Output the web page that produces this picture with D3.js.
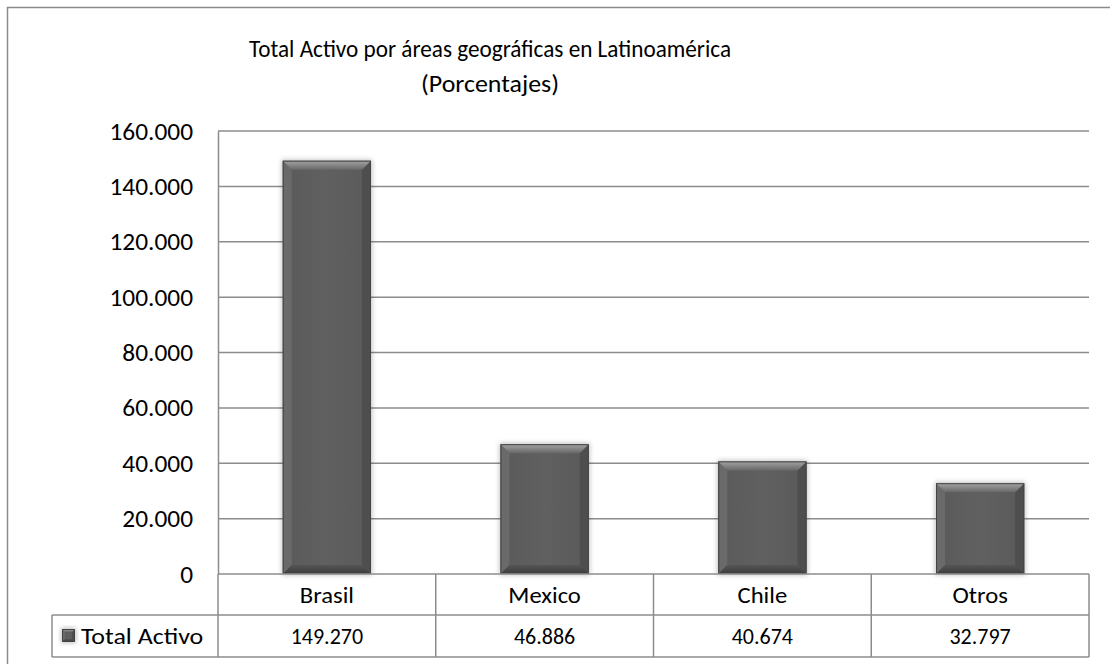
<!DOCTYPE html>
<html>
<head>
<meta charset="utf-8">
<script src="https://cdn.jsdelivr.net/npm/d3@7"></script>
<style>
  html, body { margin: 0; padding: 0; background: #fff; }
  svg { display: block; font-family: Carlito, Lato, "Open Sans", sans-serif; }
</style>
</head>
<body>
<svg id="chart" width="1110" height="664"></svg>
<script>
// Total Activo by region (thousands, shown with "." as thousands separator)
const categories = ["Brasil", "Mexico", "Chile", "Otros"];
const totalActivo = [149270, 46886, 40674, 32797];
const yTicks = [0, 20000, 40000, 60000, 80000, 100000, 120000, 140000, 160000];
const seriesName = "Total Activo";
const titleLines = ["Total Activo por áreas geográficas en Latinoamérica", "(Porcentajes)"];

const svg = d3.select("#chart");
const W = 1110, H = 664;

const plot = { left: 218, right: 1089, top: 131, bottom: 574 };
const rowH = [574, 615, 657];
const legendLeft = 52;
const gridColor = "#8c8c8c";

const locale = d3.formatLocale({ decimal: ",", thousands: ".", grouping: [3], currency: ["", ""] });
const fmt = locale.format(",");

const x = d3.scaleBand().domain(categories).range([plot.left, plot.right]).padding(0);
const y = d3.scaleLinear().domain([0, 160000]).range([plot.bottom, plot.top]);

const defs = svg.append("defs");
const topGrad = defs.append("linearGradient").attr("id", "topBevel").attr("x1", 0).attr("y1", 0).attr("x2", 0).attr("y2", 1);
topGrad.append("stop").attr("offset", "0%").attr("stop-color", "#a4a4a4");
topGrad.append("stop").attr("offset", "100%").attr("stop-color", "#686868");
const botGrad = defs.append("linearGradient").attr("id", "botBevel").attr("x1", 0).attr("y1", 0).attr("x2", 0).attr("y2", 1);
botGrad.append("stop").attr("offset", "0%").attr("stop-color", "#555");
botGrad.append("stop").attr("offset", "100%").attr("stop-color", "#3c3c3c");
const bodyGrad = defs.append("linearGradient").attr("id", "barBody").attr("x1", 0).attr("y1", 0).attr("x2", 1).attr("y2", 0);
bodyGrad.append("stop").attr("offset", "0%").attr("stop-color", "#5a5a5a");
bodyGrad.append("stop").attr("offset", "50%").attr("stop-color", "#606060");
bodyGrad.append("stop").attr("offset", "100%").attr("stop-color", "#5a5a5a");
const shadow = defs.append("filter").attr("id", "soft").attr("x", "-20%").attr("y", "-20%").attr("width", "140%").attr("height", "140%");
shadow.append("feGaussianBlur").attr("stdDeviation", 2.5);

// widen/narrow text horizontally by a factor, keeping glyph height
function stretch(sel, k) {
  sel.each(function () {
    const w = this.getComputedTextLength();
    d3.select(this).attr("textLength", w * k).attr("lengthAdjust", "spacingAndGlyphs");
  });
}

// outer chart frame
svg.append("rect")
  .attr("x", 7.5).attr("y", 7.5)
  .attr("width", W).attr("height", H)
  .attr("fill", "none").attr("stroke", "#8a8a8a").attr("stroke-width", 1.5);

// title: main line and subtitle
const titleWidths = [482, 138];
svg.append("g").selectAll("text").data(titleLines).join("text")
  .attr("x", 490)
  .attr("y", (d, i) => 57 + i * 35)
  .attr("text-anchor", "middle")
  .attr("font-size", 24)
  .attr("fill", "#000")
  .attr("textLength", (d, i) => titleWidths[i])
  .attr("lengthAdjust", "spacingAndGlyphs")
  .text(d => d);

// horizontal gridlines
svg.append("g").selectAll("line").data(yTicks.slice(1)).join("line")
  .attr("x1", plot.left).attr("x2", plot.right)
  .attr("y1", d => y(d)).attr("y2", d => y(d))
  .attr("stroke", gridColor).attr("stroke-width", 1.5);

// value axis
const yAxis = svg.append("g")
  .attr("transform", `translate(${plot.left},0)`)
  .call(d3.axisLeft(y).tickValues(yTicks).tickFormat(fmt).tickSize(0).tickPadding(25));
yAxis.select(".domain").attr("stroke", gridColor).attr("stroke-width", 1.5);
const tickText = yAxis.selectAll("text").attr("font-size", 23.5).attr("fill", "#000")
  .attr("font-family", "Carlito, Lato, sans-serif").attr("dy", "0.34em");
stretch(tickText, 1.08);

// bars with bevelled edges
function bevelBar(g, x0, x1, y0, y1, b) {
  const w = x1 - x0, h = y1 - y0;
  const bb = Math.min(b, w / 2, h / 2);
  g.append("rect").attr("x", x0 - 1).attr("y", y0 - 1).attr("width", w + 2).attr("height", h + 2)
    .attr("fill", "#000").attr("opacity", 0.25).attr("filter", "url(#soft)");
  g.append("rect").attr("x", x0).attr("y", y0).attr("width", w).attr("height", h).attr("fill", "url(#barBody)");
  g.append("polygon").attr("points", [[x0, y0], [x0 + bb, y0 + bb], [x0 + bb, y1 - bb], [x0, y1]].join(" "))
    .attr("fill", "#6a6a6a");
  g.append("polygon").attr("points", [[x1, y0], [x1 - bb, y0 + bb], [x1 - bb, y1 - bb], [x1, y1]].join(" "))
    .attr("fill", "#4e4e4e");
  g.append("polygon").attr("points", [[x0, y1], [x0 + bb, y1 - bb], [x1 - bb, y1 - bb], [x1, y1]].join(" "))
    .attr("fill", "url(#botBevel)");
  g.append("polygon").attr("points", [[x0, y0], [x1, y0], [x1 - bb, y0 + bb], [x0 + bb, y0 + bb]].join(" "))
    .attr("fill", "url(#topBevel)");
  g.append("rect").attr("x", x0 + 0.5).attr("y", y0 + 0.5).attr("width", w - 1).attr("height", h - 1)
    .attr("fill", "none").attr("stroke", "#444").attr("stroke-width", 1);
}

const barW = x.bandwidth() * 0.405;
const barsG = svg.append("g");
categories.forEach((c, i) => {
  const cx = x(c) + x.bandwidth() / 2;
  bevelBar(barsG.append("g"), cx - barW / 2, cx + barW / 2, y(totalActivo[i]), y(0), 9);
});

// data table grid
const tbl = svg.append("g").attr("stroke", gridColor).attr("stroke-width", 1.5);
tbl.append("line").attr("x1", plot.left).attr("x2", plot.right).attr("y1", rowH[0]).attr("y2", rowH[0]);
tbl.append("line").attr("x1", legendLeft).attr("x2", plot.right).attr("y1", rowH[1]).attr("y2", rowH[1]);
tbl.append("line").attr("x1", legendLeft).attr("x2", plot.right).attr("y1", rowH[2]).attr("y2", rowH[2]);
tbl.append("line").attr("x1", legendLeft).attr("x2", legendLeft).attr("y1", rowH[1]).attr("y2", rowH[2]);
tbl.append("line").attr("x1", plot.left).attr("x2", plot.left).attr("y1", plot.bottom).attr("y2", rowH[2]);
tbl.selectAll(".sep").data(categories).join("line").attr("class", "sep")
  .attr("x1", d => x(d) + x.bandwidth()).attr("x2", d => x(d) + x.bandwidth())
  .attr("y1", rowH[0]).attr("y2", rowH[2]);

// category labels
const catText = svg.append("g").selectAll("text").data(categories).join("text")
  .attr("x", d => x(d) + x.bandwidth() / 2)
  .attr("y", (rowH[0] + rowH[1]) / 2 + 8)
  .attr("text-anchor", "middle").attr("font-size", 22).attr("fill", "#000")
  .text(d => d);
stretch(catText, 1.12);

// value row
svg.append("g").selectAll("text").data(categories).join("text")
  .attr("x", d => x(d) + x.bandwidth() / 2)
  .attr("y", (rowH[1] + rowH[2]) / 2 + 8)
  .attr("text-anchor", "middle").attr("font-size", 22).attr("fill", "#000")
  .text((d, i) => fmt(totalActivo[i]));

// legend key + series name
const lg = svg.append("g");
bevelBar(lg, 62, 75, 629, 642, 3);
const lgText = lg.append("text").attr("x", 81).attr("y", (rowH[1] + rowH[2]) / 2 + 8)
  .attr("font-size", 22).attr("fill", "#000").text(seriesName);
stretch(lgText, 1.18);
</script>
</body>
</html>
